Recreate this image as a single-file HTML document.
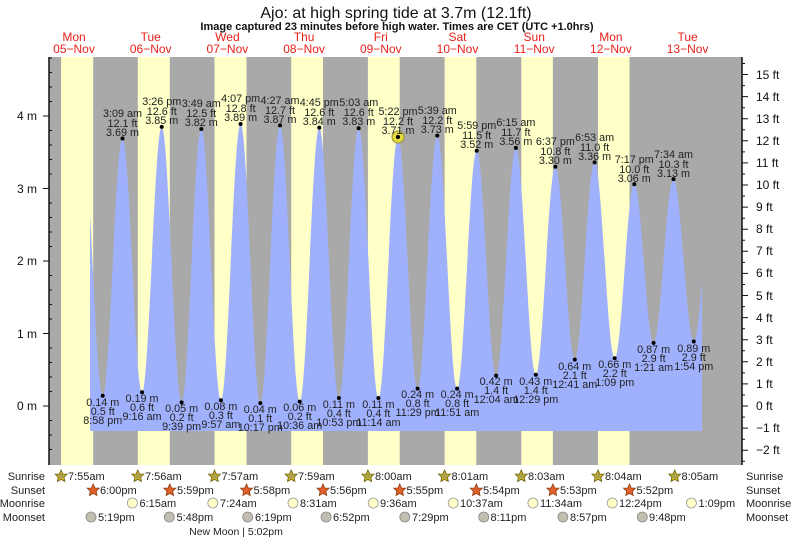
<!DOCTYPE html>
<html><head><meta charset="utf-8"><style>
html,body{margin:0;padding:0;background:#fff;}
svg{display:block;font-family:"Liberation Sans",sans-serif;}
.hl text,.lw text{font-size:10.8px;fill:#222;text-anchor:middle;}
.day{font-size:12px;fill:#e8201a;text-anchor:middle;}
.ax{font-size:12px;fill:#111;}
.row{font-size:11px;fill:#222;}
</style></head><body>
<svg width="793" height="539" viewBox="0 0 793 539" xmlns="http://www.w3.org/2000/svg">
<defs><clipPath id="cp"><rect x="90" y="50" width="612" height="390"/></clipPath>
<g id="sr"><polygon points="0,-6 1.8,-2 6,-1.9 2.9,1.2 3.7,5.5 0,3.4 -3.7,5.5 -2.9,1.2 -6,-1.9 -1.8,-2" fill="#c8b428" stroke="#6a5a10" stroke-width="0.8"/><circle r="2.3" fill="#a8a050"/></g>
<g id="ss"><polygon points="0,-6 1.8,-2 6,-1.9 2.9,1.2 3.7,5.5 0,3.4 -3.7,5.5 -2.9,1.2 -6,-1.9 -1.8,-2" fill="#e0602a" stroke="#8a3a10" stroke-width="0.8"/></g>
<circle id="mr" r="5" fill="#ffffc8" stroke="#999" stroke-width="0.8"/>
<circle id="ms" r="5" fill="#c2beb0" stroke="#888" stroke-width="0.8"/>
</defs>
<text x="396" y="18" font-size="16" text-anchor="middle" fill="#111">Ajo: at high  spring tide at 3.7m (12.1ft)</text>
<text x="397" y="30" font-size="11" font-weight="bold" text-anchor="middle" fill="#111">Image captured 23 minutes before high water. Times are CET (UTC +1.0hrs)</text>
<g class="day">
<text x="74" y="41">Mon</text><text x="74" y="53">05−Nov</text>
<text x="150.7" y="41">Tue</text><text x="150.7" y="53">06−Nov</text>
<text x="227.4" y="41">Wed</text><text x="227.4" y="53">07−Nov</text>
<text x="304.1" y="41">Thu</text><text x="304.1" y="53">08−Nov</text>
<text x="380.8" y="41">Fri</text><text x="380.8" y="53">09−Nov</text>
<text x="457.5" y="41">Sat</text><text x="457.5" y="53">10−Nov</text>
<text x="534.2" y="41">Sun</text><text x="534.2" y="53">11−Nov</text>
<text x="610.9" y="41">Mon</text><text x="610.9" y="53">12−Nov</text>
<text x="687.6" y="41">Tue</text><text x="687.6" y="53">13−Nov</text>
</g>
<rect x="49" y="57" width="693" height="408" fill="#a9a9a9"/>
<g fill="#ffffc8">
<rect x="61.1" y="57" width="32.1" height="408"/>
<rect x="137.8" y="57" width="32" height="408"/>
<rect x="214.5" y="57" width="32" height="408"/>
<rect x="291.2" y="57" width="31.8" height="408"/>
<rect x="367.9" y="57" width="31.8" height="408"/>
<rect x="444.6" y="57" width="31.7" height="408"/>
<rect x="521.3" y="57" width="31.6" height="408"/>
<rect x="598" y="57" width="31.5" height="408"/>
</g>
<path clip-path="url(#cp)" fill="#9fb1fd" d="M83.1,145 C90.3,145 95.5,395.8 102.7,395.8 C109.9,395.8 115.3,138.5 122.5,138.5 C129.7,138.5 134.8,392.2 142.0,392.2 C149.2,392.2 154.5,126.9 161.7,126.9 C168.9,126.9 174.4,402.4 181.6,402.4 C188.8,402.4 194.1,129.0 201.3,129.0 C208.5,129.0 213.7,400.2 220.9,400.2 C228.1,400.2 233.4,124.0 240.6,124.0 C247.8,124.0 253.1,403.1 260.3,403.1 C267.5,403.1 272.8,125.4 280.0,125.4 C287.2,125.4 292.5,401.6 299.7,401.6 C306.9,401.6 312.1,127.6 319.3,127.6 C326.5,127.6 331.7,398.0 338.9,398.0 C346.1,398.0 351.5,128.3 358.7,128.3 C365.9,128.3 371.2,398.0 378.4,398.0 C385.6,398.0 390.8,137.0 398.0,137.0 C405.2,137.0 410.4,388.6 417.6,388.6 C424.8,388.6 430.1,135.6 437.3,135.6 C444.5,135.6 449.9,388.6 457.1,388.6 C464.3,388.6 469.5,150.8 476.7,150.8 C483.9,150.8 488.9,375.6 496.1,375.6 C503.3,375.6 508.7,147.9 515.9,147.9 C523.1,147.9 528.6,374.8 535.8,374.8 C543.0,374.8 548.2,166.75 555.4,166.75 C562.6,166.75 567.6,359.6 574.8,359.6 C582.0,359.6 587.4,162.4 594.6,162.4 C601.8,162.4 607.5,358.2 614.7,358.2 C621.9,358.2 627.1,184.2 634.3,184.2 C641.5,184.2 646.4,342.9 653.6,342.9 C660.8,342.9 666.3,179.1 673.5,179.1 C680.7,179.1 686.6,341.5 693.8,341.5 C701.0,341.5 705.4,188.5 712.6,188.5 L712.6,431 L83.1,431 Z"/>
<circle cx="398" cy="137" r="6" fill="#e2d840" stroke="#9a9030" stroke-width="1"/>
<g fill="#000">
<circle cx="102.7" cy="395.8" r="2"/><circle cx="122.5" cy="138.5" r="2"/><circle cx="142" cy="392.2" r="2"/><circle cx="161.7" cy="126.9" r="2"/><circle cx="181.6" cy="402.4" r="2"/><circle cx="201.3" cy="129" r="2"/><circle cx="220.9" cy="400.2" r="2"/><circle cx="240.6" cy="124" r="2"/><circle cx="260.3" cy="403.1" r="2"/><circle cx="280" cy="125.4" r="2"/><circle cx="299.7" cy="401.6" r="2"/><circle cx="319.3" cy="127.6" r="2"/><circle cx="338.9" cy="398" r="2"/><circle cx="358.7" cy="128.3" r="2"/><circle cx="378.4" cy="398" r="2"/><circle cx="398" cy="137" r="2"/><circle cx="417.6" cy="388.6" r="2"/><circle cx="437.3" cy="135.6" r="2"/><circle cx="457.1" cy="388.6" r="2"/><circle cx="476.7" cy="150.8" r="2"/><circle cx="496.1" cy="375.6" r="2"/><circle cx="515.9" cy="147.9" r="2"/><circle cx="535.8" cy="374.8" r="2"/><circle cx="555.4" cy="166.75" r="2"/><circle cx="574.8" cy="359.6" r="2"/><circle cx="594.6" cy="162.4" r="2"/><circle cx="614.7" cy="358.2" r="2"/><circle cx="634.3" cy="184.2" r="2"/><circle cx="653.6" cy="342.9" r="2"/><circle cx="673.5" cy="179.1" r="2"/><circle cx="693.8" cy="341.5" r="2"/>
</g>
<g class="hl">
<text x="122.5" y="117">3:09 am</text><text x="122.5" y="127">12.1 ft</text><text x="122.5" y="136">3.69 m</text>
<text x="161.7" y="105">3:26 pm</text><text x="161.7" y="115">12.6 ft</text><text x="161.7" y="124">3.85 m</text>
<text x="201.3" y="107">3:49 am</text><text x="201.3" y="117">12.5 ft</text><text x="201.3" y="126">3.82 m</text>
<text x="240.6" y="102">4:07 pm</text><text x="240.6" y="112">12.8 ft</text><text x="240.6" y="121">3.89 m</text>
<text x="280" y="104">4:27 am</text><text x="280" y="114">12.7 ft</text><text x="280" y="123">3.87 m</text>
<text x="319.3" y="106">4:45 pm</text><text x="319.3" y="116">12.6 ft</text><text x="319.3" y="125">3.84 m</text>
<text x="358.7" y="106">5:03 am</text><text x="358.7" y="116">12.6 ft</text><text x="358.7" y="125">3.83 m</text>
<text x="398" y="115">5:22 pm</text><text x="398" y="125">12.2 ft</text><text x="398" y="134">3.71 m</text>
<text x="437.3" y="114">5:39 am</text><text x="437.3" y="124">12.2 ft</text><text x="437.3" y="133">3.73 m</text>
<text x="476.7" y="129">5:59 pm</text><text x="476.7" y="139">11.5 ft</text><text x="476.7" y="148">3.52 m</text>
<text x="515.9" y="126">6:15 am</text><text x="515.9" y="136">11.7 ft</text><text x="515.9" y="145">3.56 m</text>
<text x="555.4" y="145">6:37 pm</text><text x="555.4" y="155">10.8 ft</text><text x="555.4" y="164">3.30 m</text>
<text x="594.6" y="141">6:53 am</text><text x="594.6" y="151">11.0 ft</text><text x="594.6" y="160">3.36 m</text>
<text x="634.3" y="163">7:17 pm</text><text x="634.3" y="173">10.0 ft</text><text x="634.3" y="182">3.06 m</text>
<text x="673.5" y="158">7:34 am</text><text x="673.5" y="168">10.3 ft</text><text x="673.5" y="177">3.13 m</text>
</g>
<g class="lw">
<text x="102.7" y="406">0.14 m</text><text x="102.7" y="415">0.5 ft</text><text x="102.7" y="424">8:58 pm</text>
<text x="142" y="402">0.19 m</text><text x="142" y="411">0.6 ft</text><text x="142" y="420">9:16 am</text>
<text x="181.6" y="412">0.05 m</text><text x="181.6" y="421">0.2 ft</text><text x="181.6" y="430">9:39 pm</text>
<text x="220.9" y="410">0.08 m</text><text x="220.9" y="419">0.3 ft</text><text x="220.9" y="428">9:57 am</text>
<text x="260.3" y="413">0.04 m</text><text x="260.3" y="422">0.1 ft</text><text x="260.3" y="431">10:17 pm</text>
<text x="299.7" y="411">0.06 m</text><text x="299.7" y="420">0.2 ft</text><text x="299.7" y="429">10:36 am</text>
<text x="338.9" y="408">0.11 m</text><text x="338.9" y="417">0.4 ft</text><text x="338.9" y="426">10:53 pm</text>
<text x="378.4" y="408">0.11 m</text><text x="378.4" y="417">0.4 ft</text><text x="378.4" y="426">11:14 am</text>
<text x="417.6" y="398">0.24 m</text><text x="417.6" y="407">0.8 ft</text><text x="417.6" y="416">11:29 pm</text>
<text x="457.1" y="398">0.24 m</text><text x="457.1" y="407">0.8 ft</text><text x="457.1" y="416">11:51 am</text>
<text x="496.1" y="385">0.42 m</text><text x="496.1" y="394">1.4 ft</text><text x="496.1" y="403">12:04 am</text>
<text x="535.8" y="385">0.43 m</text><text x="535.8" y="394">1.4 ft</text><text x="535.8" y="403">12:29 pm</text>
<text x="574.8" y="370">0.64 m</text><text x="574.8" y="379">2.1 ft</text><text x="574.8" y="388">12:41 am</text>
<text x="614.7" y="368">0.66 m</text><text x="614.7" y="377">2.2 ft</text><text x="614.7" y="386">1:09 pm</text>
<text x="653.6" y="353">0.87 m</text><text x="653.6" y="362">2.9 ft</text><text x="653.6" y="371">1:21 am</text>
<text x="693.8" y="352">0.89 m</text><text x="693.8" y="361">2.9 ft</text><text x="693.8" y="370">1:54 pm</text>
</g>
<g stroke="#111" stroke-width="1">
<line x1="49" y1="57" x2="49" y2="465" stroke-width="1.5"/>
<line x1="742" y1="57" x2="742" y2="465" stroke-width="1.5"/>
<line x1="43" y1="116" x2="49" y2="116"/><line x1="43" y1="188.5" x2="49" y2="188.5"/><line x1="43" y1="261" x2="49" y2="261"/><line x1="43" y1="333.5" x2="49" y2="333.5"/><line x1="43" y1="406" x2="49" y2="406"/>
<path d="M49,449.5h3M49,435h3M49,420.5h3M49,391.5h3M49,377h3M49,362.5h3M49,348h3M49,319h3M49,304.5h3M49,290h3M49,275.5h3M49,246.5h3M49,232h3M49,217.5h3M49,203h3M49,174h3M49,159.5h3M49,145h3M49,130.5h3M49,101.5h3M49,87h3M49,72.5h3M49,58h3"/>
<path d="M742,450.2h6M742,428.1h6M742,406h6M742,383.9h6M742,361.8h6M742,339.7h6M742,317.6h6M742,295.5h6M742,273.4h6M742,251.3h6M742,229.2h6M742,207.1h6M742,185h6M742,162.9h6M742,140.8h6M742,118.7h6M742,96.6h6M742,74.5h6"/>
<path d="M742,461.3h3M742,439.2h3M742,417.1h3M742,395h3M742,372.9h3M742,350.8h3M742,328.7h3M742,306.6h3M742,284.5h3M742,262.4h3M742,240.3h3M742,218.2h3M742,196.1h3M742,174h3M742,151.9h3M742,129.8h3M742,107.7h3M742,85.6h3M742,63.5h3"/>
</g>
<g class="ax" text-anchor="end">
<text x="37" y="120">4 m</text><text x="37" y="193">3 m</text><text x="37" y="265">2 m</text><text x="37" y="338">1 m</text><text x="37" y="410">0 m</text>
</g>
<g class="ax">
<text x="756" y="454">−2 ft</text><text x="756" y="432">−1 ft</text><text x="756" y="410">0 ft</text><text x="756" y="388">1 ft</text><text x="756" y="366">2 ft</text><text x="756" y="344">3 ft</text><text x="756" y="322">4 ft</text><text x="756" y="300">5 ft</text><text x="756" y="277">6 ft</text><text x="756" y="255">7 ft</text><text x="756" y="233">8 ft</text><text x="756" y="211">9 ft</text><text x="756" y="189">10 ft</text><text x="756" y="167">11 ft</text><text x="756" y="145">12 ft</text><text x="756" y="123">13 ft</text><text x="756" y="101">14 ft</text><text x="756" y="79">15 ft</text>
</g>
<g class="row" text-anchor="end">
<text x="45" y="480">Sunrise</text><text x="45" y="494">Sunset</text><text x="45" y="507">Moonrise</text><text x="45" y="521">Moonset</text>
</g>
<g class="row">
<text x="746" y="480">Sunrise</text><text x="746" y="494">Sunset</text><text x="746" y="507">Moonrise</text><text x="746" y="521">Moonset</text>
</g>
<use href="#sr" x="61.1" y="476"/><use href="#sr" x="137.8" y="476"/><use href="#sr" x="214.5" y="476"/><use href="#sr" x="291.2" y="476"/><use href="#sr" x="367.9" y="476"/><use href="#sr" x="444.6" y="476"/><use href="#sr" x="521.3" y="476"/><use href="#sr" x="598" y="476"/><use href="#sr" x="674.7" y="476"/>
<use href="#ss" x="93.2" y="490"/><use href="#ss" x="169.8" y="490"/><use href="#ss" x="246.5" y="490"/><use href="#ss" x="323" y="490"/><use href="#ss" x="399.7" y="490"/><use href="#ss" x="476.3" y="490"/><use href="#ss" x="552.9" y="490"/><use href="#ss" x="629.5" y="490"/>
<use href="#mr" x="132.4" y="503"/><use href="#mr" x="212.8" y="503"/><use href="#mr" x="293" y="503"/><use href="#mr" x="373.2" y="503"/><use href="#mr" x="453.2" y="503"/><use href="#mr" x="532.9" y="503"/><use href="#mr" x="612.3" y="503"/><use href="#mr" x="691.4" y="503"/>
<use href="#ms" x="91" y="517"/><use href="#ms" x="169.3" y="517"/><use href="#ms" x="247.7" y="517"/><use href="#ms" x="326.1" y="517"/><use href="#ms" x="404.8" y="517"/><use href="#ms" x="483.7" y="517"/><use href="#ms" x="562.9" y="517"/><use href="#ms" x="642.3" y="517"/>
<g class="row">
<text x="68" y="480">7:55am</text><text x="145" y="480">7:56am</text><text x="221.5" y="480">7:57am</text><text x="298" y="480">7:59am</text><text x="375" y="480">8:00am</text><text x="451.5" y="480">8:01am</text><text x="528" y="480">8:03am</text><text x="605" y="480">8:04am</text><text x="681.5" y="480">8:05am</text>
<text x="100" y="494">6:00pm</text><text x="177" y="494">5:59pm</text><text x="253.5" y="494">5:58pm</text><text x="330" y="494">5:56pm</text><text x="406.5" y="494">5:55pm</text><text x="483" y="494">5:54pm</text><text x="560" y="494">5:53pm</text><text x="636.5" y="494">5:52pm</text>
<text x="139.5" y="507">6:15am</text><text x="220" y="507">7:24am</text><text x="300" y="507">8:31am</text><text x="380" y="507">9:36am</text><text x="460" y="507">10:37am</text><text x="540" y="507">11:34am</text><text x="619" y="507">12:24pm</text><text x="698.5" y="507">1:09pm</text>
<text x="98" y="521">5:19pm</text><text x="176.5" y="521">5:48pm</text><text x="255" y="521">6:19pm</text><text x="333" y="521">6:52pm</text><text x="412" y="521">7:29pm</text><text x="490.5" y="521">8:11pm</text><text x="570" y="521">8:57pm</text><text x="649" y="521">9:48pm</text>
<text x="236" y="535" text-anchor="middle" font-size="10.5">New Moon | 5:02pm</text>
</g>
</svg>
</body></html>
